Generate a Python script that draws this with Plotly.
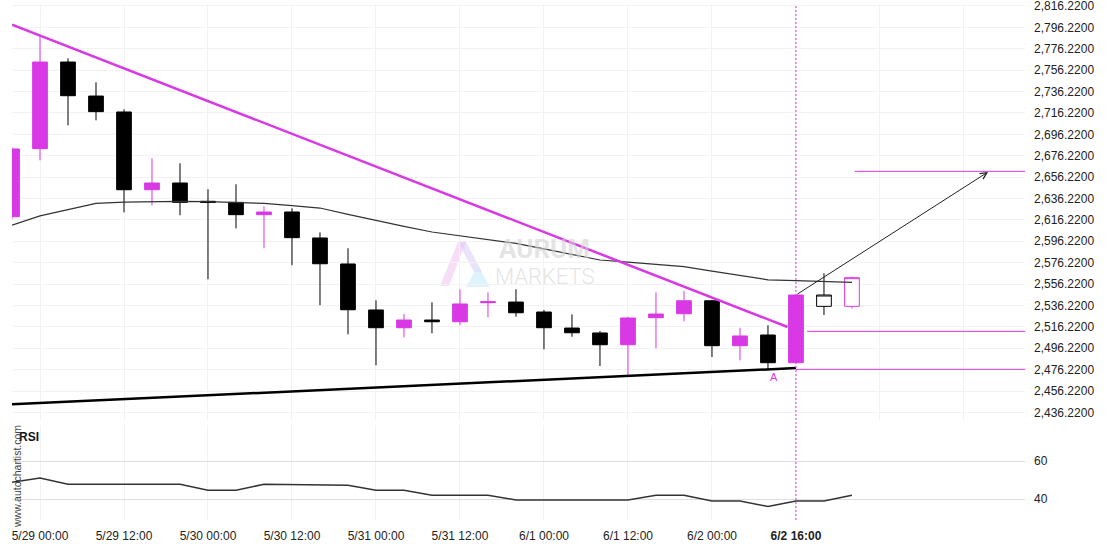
import plotly.graph_objects as go

# ---------------- data ----------------
candle_idx = list(range(-1, 28))
opens = [2619.2, 2682.8, 2763.8, 2732.0, 2717.1, 2644.4, 2650.7, 2633.6, 2632.6, 2621.1,
         2623.6, 2599.3, 2575.0, 2532.0, 2515.4, 2522.6, 2521.0, 2538.8, 2539.4, 2530.1,
         2515.1, 2510.5, 2499.5, 2524.8, 2528.5, 2540.6, 2498.6, 2508.6, 2482.7]
highs = [2684.0, 2789.0, 2767.3, 2744.8, 2719.6, 2673.8, 2669.1, 2644.8, 2649.5, 2628.9,
         2627.1, 2604.6, 2589.7, 2541.0, 2528.2, 2539.2, 2551.3, 2548.5, 2551.3, 2532.0,
         2527.9, 2512.3, 2525.7, 2548.5, 2549.7, 2541.3, 2515.4, 2517.7, 2546.0]
lows = [2617.0, 2671.9, 2704.6, 2709.3, 2623.3, 2629.8, 2620.5, 2560.7, 2608.3, 2589.7,
        2573.8, 2536.4, 2509.2, 2480.3, 2506.4, 2510.2, 2517.7, 2525.2, 2525.7, 2495.2,
        2507.0, 2479.6, 2470.7, 2496.1, 2521.4, 2488.0, 2484.9, 2476.5, 2482.7]
closes = [2682.5, 2763.8, 2732.3, 2717.4, 2644.4, 2650.7, 2632.6, 2632.6, 2621.1, 2623.6,
          2599.6, 2575.2, 2532.2, 2515.4, 2522.6, 2521.0, 2537.6, 2539.7, 2529.4, 2515.4,
          2510.7, 2499.5, 2524.5, 2528.2, 2540.6, 2498.6, 2507.7, 2482.7, 2546.0]

live_idx = [28]
live_open = [2535.4]
live_high = [2566.3]
live_low = [2527.3]
live_close = [2546.0]

proj_idx = [29]
proj_open = [2535.4]
proj_high = [2563.1]
proj_low = [2533.5]
proj_close = [2562.2]

ma_idx = list(range(-1, 30))
ma_vals = [2611.2, 2619.9, 2625.8, 2631.7, 2632.9, 2633.3, 2633.6, 2633.2, 2632.5, 2631.7,
           2629.6, 2627.3, 2621.4, 2615.5, 2610.2, 2604.9, 2601.3, 2597.9, 2594.3, 2589.1,
           2584.0, 2578.7, 2576.7, 2574.5, 2572.5, 2568.4, 2564.3, 2560.2, 2559.4, 2558.6,
           2557.8]

rsi_idx = list(range(-1, 30))
rsi_vals = [48.8, 51.0, 47.8, 47.8, 47.8, 47.8, 47.8, 44.6, 44.6, 47.8,
            47.7, 47.5, 47.3, 44.6, 44.6, 42.0, 42.0, 42.0, 39.5, 39.5,
            39.5, 39.5, 39.5, 42.0, 42.0, 38.9, 38.9, 36.1, 38.9, 38.9,
            42.0]

resist_x = [-1, 26.7]
resist_y = [2798.7, 2516.1]
support_x = [-1, 27]
support_y = [2443.8, 2477.7]

level_prices = [2512.0, 2476.5, 2661.6]
level_start = [27.4, 27.0, 29.1]
level_end = 35.18

arrow_from = (27, 2546.0)
arrow_to = (33.86, 2661.0)
signal_idx = 27
pattern_point = (26.2, 2476.5)

tick_idx = [0, 3, 6, 9, 12, 15, 18, 21, 24, 27]
tick_text = ["5/29 00:00", "5/29 12:00", "5/30 00:00", "5/30 12:00", "5/31 00:00",
             "5/31 12:00", "6/1 00:00", "6/1 12:00", "6/2 00:00", "<b>6/2 16:00</b>"]
grid_idx = [0, 3, 6, 9, 12, 15, 18, 21, 24, 27, 30, 33]

price_ticks = [2436.22, 2456.22, 2476.22, 2496.22, 2516.22, 2536.22, 2556.22, 2576.22,
               2596.22, 2616.22, 2636.22, 2656.22, 2676.22, 2696.22, 2716.22, 2736.22,
               2756.22, 2776.22, 2796.22, 2816.22]
rsi_ticks = [40, 60]

# ---------------- style ----------------
MAG = "#d938e5"
FONT = "Liberation Sans, Arial, sans-serif"
XR = [-1, 35.18]
W, H = 1110, 550
ML, MR, MT, MB = 12, 85, 4, 30
PW = W - ML - MR
PH = H - MT - MB
PRICE_BOTTOM_PX = 420
RSI_TOP_PX = 425


def px(x):
    return (x - ML) / PW


def py(y):
    return 1 - (y - MT) / PH


fig = go.Figure()

fig.add_trace(go.Scatter(x=ma_idx, y=ma_vals, mode="lines",
                         line=dict(color="#333333", width=1.2),
                         hoverinfo="skip", showlegend=False, xaxis="x", yaxis="y"))

fig.add_trace(go.Candlestick(
    x=candle_idx, open=opens, high=highs, low=lows, close=closes,
    increasing=dict(line=dict(color=MAG, width=1), fillcolor=MAG),
    decreasing=dict(line=dict(color="#000000", width=1), fillcolor="#000000"),
    whiskerwidth=0, showlegend=False, hoverinfo="skip", xaxis="x", yaxis="y"))

fig.add_trace(go.Candlestick(
    x=live_idx, open=live_open, high=live_high, low=live_low, close=live_close,
    increasing=dict(line=dict(color="#000000", width=1), fillcolor="#ffffff"),
    decreasing=dict(line=dict(color="#000000", width=1), fillcolor="#ffffff"),
    whiskerwidth=0, showlegend=False, hoverinfo="skip", xaxis="x", yaxis="y"))

fig.add_trace(go.Candlestick(
    x=proj_idx, open=proj_open, high=proj_high, low=proj_low, close=proj_close,
    increasing=dict(line=dict(color=MAG, width=1), fillcolor="#ffffff"),
    decreasing=dict(line=dict(color=MAG, width=1), fillcolor="#ffffff"),
    whiskerwidth=0, showlegend=False, hoverinfo="skip", xaxis="x", yaxis="y"))

fig.add_trace(go.Scatter(x=resist_x, y=resist_y, mode="lines",
                         line=dict(color=MAG, width=2.5),
                         hoverinfo="skip", showlegend=False, xaxis="x", yaxis="y"))
fig.add_trace(go.Scatter(x=support_x, y=support_y, mode="lines",
                         line=dict(color="#000000", width=2.5),
                         hoverinfo="skip", showlegend=False, xaxis="x", yaxis="y"))

for lp, ls in zip(level_prices, level_start):
    fig.add_trace(go.Scatter(x=[ls, level_end], y=[lp, lp], mode="lines",
                             line=dict(color=MAG, width=1),
                             hoverinfo="skip", showlegend=False, xaxis="x", yaxis="y"))

fig.add_trace(go.Scatter(x=rsi_idx, y=rsi_vals, mode="lines",
                         line=dict(color="#333333", width=1.5),
                         hoverinfo="skip", showlegend=False, xaxis="x2", yaxis="y2"))

# vertical dotted signal line
fig.add_shape(type="line", xref="x", yref="paper", x0=signal_idx, x1=signal_idx,
              y0=0, y1=1, line=dict(color=MAG, width=1, dash="2px,2px"))

# watermark logo (decorative)
fig.add_shape(type="path", xref="paper", yref="paper", layer="below",
              path=f"M {px(440)},{py(286)} L {px(458)},{py(242)} L {px(466)},{py(242)} L {px(449)},{py(286)} Z",
              fillcolor="rgba(240,190,240,0.5)", line=dict(width=0))
fig.add_shape(type="path", xref="paper", yref="paper", layer="below",
              path=f"M {px(458)},{py(242)} L {px(466)},{py(242)} L {px(482)},{py(272)} L {px(474)},{py(272)} Z",
              fillcolor="rgba(215,200,245,0.5)", line=dict(width=0))
fig.add_shape(type="path", xref="paper", yref="paper", layer="below",
              path=f"M {px(478)},{py(266)} L {px(490)},{py(287)} L {px(466)},{py(287)} Z",
              fillcolor="rgba(200,235,250,0.6)", line=dict(width=0))

annotations = [
    dict(x=px(544), y=py(249), xref="paper", yref="paper", text="AURUM", showarrow=False,
         xanchor="center", yanchor="middle",
         font=dict(family="Roboto, " + FONT, size=26, color="rgba(210,210,210,0.6)", weight=700)),
    dict(x=px(545), y=py(276), xref="paper", yref="paper", text="MARKETS", showarrow=False,
         xanchor="center", yanchor="middle",
         font=dict(family="Roboto, " + FONT, size=22, color="rgba(210,210,210,0.6)", weight=300)),
    dict(x=arrow_to[0], y=arrow_to[1], xref="x", yref="y", ax=arrow_from[0], ay=arrow_from[1],
         axref="x", ayref="y", text="", showarrow=True, arrowhead=5, arrowsize=1.3,
         arrowwidth=1, arrowcolor="#222222"),
    dict(x=pattern_point[0], y=pattern_point[1], xref="x", yref="y", text="A", showarrow=False,
         font=dict(family=FONT, size=11, color=MAG), xanchor="center", yanchor="top"),
    dict(x=px(29), y=py(437), xref="paper", yref="paper", text="<b>RSI</b>", showarrow=False,
         xanchor="center", yanchor="middle",
         font=dict(family="Liberation Sans Narrow, " + FONT, size=12, color="#111111")),
    dict(x=px(17), y=py(477), xref="paper", yref="paper", text="www.autochartist.com",
         showarrow=False, textangle=-90, xanchor="center", yanchor="middle",
         font=dict(family=FONT, size=10.5, color="#444444")),
]

fig.update_layout(
    width=W, height=H,
    margin=dict(l=ML, r=MR, t=MT, b=MB, autoexpand=False),
    paper_bgcolor="#ffffff", plot_bgcolor="#ffffff",
    font=dict(family=FONT, size=12, color="#222222"),
    showlegend=False,
    boxgap=0.25,
    annotations=annotations,
    xaxis=dict(domain=[0, 1], anchor="y", range=XR, tickvals=grid_idx, showticklabels=False,
               showgrid=True, gridcolor="#f2f2f2", gridwidth=1, zeroline=False, automargin=False,
               showline=False, ticks="", rangeslider=dict(visible=False), fixedrange=True),
    xaxis2=dict(domain=[0, 1], anchor="y2", range=XR, matches="x", tickvals=tick_idx,
                ticktext=tick_text, showgrid=True, gridcolor="#f2f2f2", zeroline=False,
                showline=False, ticks="outside", ticklen=5, tickcolor="rgba(0,0,0,0)",
                tickfont=dict(size=12, color="#222222"), ticklabeloverflow="allow",
                automargin=False, tickangle=0, rangeslider=dict(visible=False)),
    yaxis=dict(domain=[(H - MB - PRICE_BOTTOM_PX) / PH, 1], anchor="x", side="right",
               range=[2429.14, 2818.04], tickvals=price_ticks, tickformat=",.4f",
               showgrid=True, gridcolor="#f2f2f2", zeroline=False, showline=False,
               ticks="", ticklabelstandoff=8, ticklabeloverflow="allow", automargin=False,
               tickfont=dict(size=12, color="#222222")),
    yaxis2=dict(domain=[0, (H - MB - RSI_TOP_PX) / PH], anchor="x2", side="right",
                range=[28.95, 78.95], tickvals=rsi_ticks, showgrid=True, automargin=False,
                gridcolor="#dddddd", zeroline=False, showline=False, ticks="",
                ticklabelstandoff=8, tickfont=dict(size=12, color="#222222")),
)

fig.write_html("out.html", config={"displayModeBar": False},
               post_script="document.body.style.margin='0px';")
